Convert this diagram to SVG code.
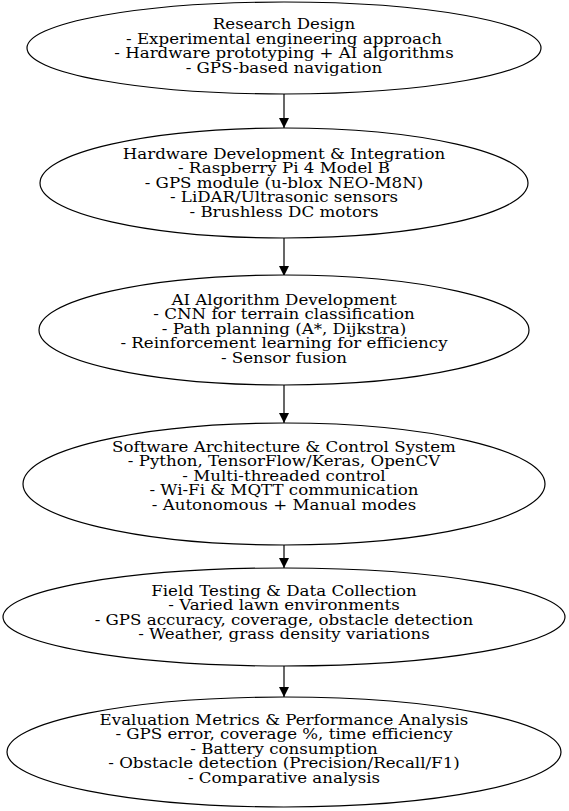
<svg xmlns="http://www.w3.org/2000/svg" width="569" height="811" viewBox="0 0 569 811">
<style>
.n ellipse{fill:#fff;stroke:#000;stroke-width:1.2}
.n text{font-family:"DejaVu Serif",serif;font-size:14px;text-anchor:middle;fill:#000}
.e line{stroke:#000;stroke-width:1.2}
</style>
<defs><marker id="ah" markerWidth="10" markerHeight="10" refX="10" refY="5" orient="auto" markerUnits="userSpaceOnUse"><path d="M0,0 L10,5 L0,10 z" fill="#000"/></marker></defs>
<rect width="569" height="811" fill="#fff"/>
<g class="e">
<line x1="284" y1="94" x2="284" y2="128" marker-end="url(#ah)"/>
<line x1="284" y1="238" x2="284" y2="276" marker-end="url(#ah)"/>
<line x1="284" y1="385" x2="284" y2="423" marker-end="url(#ah)"/>
<line x1="284" y1="545" x2="284" y2="568" marker-end="url(#ah)"/>
<line x1="284" y1="666" x2="284" y2="697" marker-end="url(#ah)"/>
</g>
<g id="n1" class="n"><ellipse cx="284" cy="48" rx="257" ry="46"/>
<g transform="matrix(1.19 0 0 1 -53.96 0)">
<text x="284" y="29">Research Design</text>
<text x="284" y="44">- Experimental engineering approach</text>
<text x="284" y="58">- Hardware prototyping + AI algorithms</text>
<text x="284" y="73">- GPS-based navigation</text></g></g>
<g id="n2" class="n"><ellipse cx="284" cy="183" rx="244" ry="55"/>
<g transform="matrix(1.19 0 0 1 -53.96 0)">
<text x="284" y="159">Hardware Development &amp; Integration</text>
<text x="284" y="173">- Raspberry Pi 4 Model B</text>
<text x="284" y="188">- GPS module (u-blox NEO-M8N)</text>
<text x="284" y="202">- LiDAR/Ultrasonic sensors</text>
<text x="284" y="217">- Brushless DC motors</text></g></g>
<g id="n3" class="n"><ellipse cx="284" cy="330" rx="245" ry="55"/>
<g transform="matrix(1.19 0 0 1 -53.96 0)">
<text x="284" y="305">AI Algorithm Development</text>
<text x="284" y="319">- CNN for terrain classification</text>
<text x="284" y="334">- Path planning (A*, Dijkstra)</text>
<text x="284" y="348">- Reinforcement learning for efficiency</text>
<text x="284" y="363">- Sensor fusion</text></g></g>
<g id="n4" class="n"><ellipse cx="284" cy="484" rx="261" ry="61"/>
<g transform="matrix(1.19 0 0 1 -53.96 0)">
<text x="284" y="452">Software Architecture &amp; Control System</text>
<text x="284" y="466">- Python, TensorFlow/Keras, OpenCV</text>
<text x="284" y="481">- Multi-threaded control</text>
<text x="284" y="495">- Wi-Fi &amp; MQTT communication</text>
<text x="284" y="510">- Autonomous + Manual modes</text></g></g>
<g id="n5" class="n"><ellipse cx="284" cy="617" rx="281" ry="49"/>
<g transform="matrix(1.19 0 0 1 -53.96 0)">
<text x="284" y="596">Field Testing &amp; Data Collection</text>
<text x="284" y="610">- Varied lawn environments</text>
<text x="284" y="625">- GPS accuracy, coverage, obstacle detection</text>
<text x="284" y="639">- Weather, grass density variations</text></g></g>
<g id="n6" class="n"><ellipse cx="284" cy="752" rx="277" ry="55"/>
<g transform="matrix(1.19 0 0 1 -53.96 0)">
<text x="284" y="725">Evaluation Metrics &amp; Performance Analysis</text>
<text x="284" y="739">- GPS error, coverage %, time efficiency</text>
<text x="284" y="754">- Battery consumption</text>
<text x="284" y="768">- Obstacle detection (Precision/Recall/F1)</text>
<text x="284" y="783">- Comparative analysis</text></g></g>
</svg>
